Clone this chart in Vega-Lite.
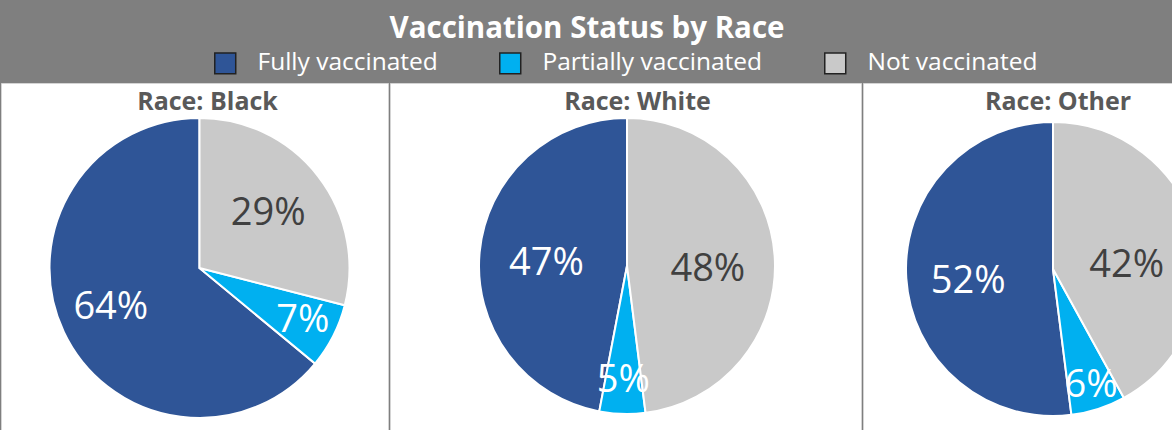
{
  "$schema": "https://vega.github.io/schema/vega-lite/v6.json",
  "background": "#7f7f7f",
  "padding": {"left": 0, "top": 13, "right": 0, "bottom": 0},
  "title": {"text": "Vaccination Status by Race", "color": "white", "fontSize": 29.5, "font": "Open Sans", "fontWeight": "bold", "anchor": "middle", "offset": 7},
  "data": {"values": [
    {"race": "Black", "status": "Fully vaccinated", "value": 0.64, "rank": 3},
    {"race": "Black", "status": "Partially vaccinated", "value": 0.07, "rank": 2},
    {"race": "Black", "status": "Not vaccinated", "value": 0.29, "rank": 1},
    {"race": "White", "status": "Fully vaccinated", "value": 0.47, "rank": 3},
    {"race": "White", "status": "Partially vaccinated", "value": 0.05, "rank": 2},
    {"race": "White", "status": "Not vaccinated", "value": 0.48, "rank": 1},
    {"race": "Other", "status": "Fully vaccinated", "value": 0.52, "rank": 3},
    {"race": "Other", "status": "Partially vaccinated", "value": 0.06, "rank": 2},
    {"race": "Other", "status": "Not vaccinated", "value": 0.42, "rank": 1}
  ]},
  "spacing": 0,
  "resolve": {"scale": {"color": "shared"}, "legend": {"color": "shared"}},
  "hconcat": [
    {
      "width": 387, "height": 348,
      "view": {"fill": "white", "stroke": "#d4d4d4", "strokeWidth": 1},
      "title": {"text": "Race: Black", "offset": -32, "dx": 13},
      "transform": [{"filter": "datum.race === 'Black'"}],
      "encoding": {
        "theta": {"field": "value", "type": "quantitative", "stack": true},
        "order": {"field": "rank", "type": "quantitative"}
      },
      "layer": [
        {"mark": {"type": "arc", "outerRadius": 150, "stroke": "white", "strokeWidth": 2, "xOffset": 5, "yOffset": 11},
         "encoding": {
           "color": {"field": "status", "type": "nominal", "scale": {"domain": ["Fully vaccinated", "Partially vaccinated", "Not vaccinated"], "range": ["#2F5597", "#00B0F0", "#C9C9C9"]}, "legend": {"title": null, "orient": "none", "direction": "horizontal", "legendX": 212, "legendY": -32}}
         }},
        {"mark": {"type": "text", "radius": 98, "font": "Open Sans", "fontSize": 38, "color": "white", "xOffset": 5, "yOffset": 9},
         "encoding": {
           "detail": {"field": "status", "type": "nominal"},
           "text": {"field": "value", "type": "quantitative", "format": ".0%"},
           "opacity": {"condition": {"test": "datum.status === 'Fully vaccinated'", "value": 1}, "value": 0}
         }},
        {"mark": {"type": "text", "radius": 87, "font": "Open Sans", "fontSize": 38, "color": "#404040", "xOffset": 5, "yOffset": 10},
         "encoding": {
           "detail": {"field": "status", "type": "nominal"},
           "text": {"field": "value", "type": "quantitative", "format": ".0%"},
           "opacity": {"condition": {"test": "datum.status === 'Not vaccinated'", "value": 1}, "value": 0}
         }},
        {"mark": {"type": "text", "radius": 116, "font": "Open Sans", "fontSize": 38, "color": "white", "xOffset": 5, "yOffset": 11},
         "encoding": {
           "detail": {"field": "status", "type": "nominal"},
           "text": {"field": "value", "type": "quantitative", "format": ".0%"},
           "opacity": {"condition": {"test": "datum.status === 'Partially vaccinated'", "value": 1}, "value": 0}
         }}
      ]
    },
    {
      "width": 471, "height": 348,
      "view": {"fill": "white", "stroke": "#d4d4d4", "strokeWidth": 1},
      "title": {"text": "Race: White", "offset": -32, "dx": 12},
      "transform": [{"filter": "datum.race === 'White'"}],
      "encoding": {
        "theta": {"field": "value", "type": "quantitative", "stack": true},
        "order": {"field": "rank", "type": "quantitative"}
      },
      "layer": [
        {"mark": {"type": "arc", "outerRadius": 148, "stroke": "white", "strokeWidth": 2, "xOffset": 1.5, "yOffset": 9},
         "encoding": {
           "color": {"field": "status", "type": "nominal", "scale": {"domain": ["Fully vaccinated", "Partially vaccinated", "Not vaccinated"], "range": ["#2F5597", "#00B0F0", "#C9C9C9"]}}
         }},
        {"mark": {"type": "text", "radius": 81, "font": "Open Sans", "fontSize": 38, "color": "white", "xOffset": 1.5, "yOffset": 15},
         "encoding": {
           "detail": {"field": "status", "type": "nominal"},
           "text": {"field": "value", "type": "quantitative", "format": ".0%"},
           "opacity": {"condition": {"test": "datum.status === 'Fully vaccinated'", "value": 1}, "value": 0}
         }},
        {"mark": {"type": "text", "radius": 81, "font": "Open Sans", "fontSize": 38, "color": "#404040", "xOffset": 1.5, "yOffset": 18},
         "encoding": {
           "detail": {"field": "status", "type": "nominal"},
           "text": {"field": "value", "type": "quantitative", "format": ".0%"},
           "opacity": {"condition": {"test": "datum.status === 'Not vaccinated'", "value": 1}, "value": 0}
         }},
        {"mark": {"type": "text", "radius": 115, "font": "Open Sans", "fontSize": 38, "color": "white", "xOffset": 1.5, "yOffset": 9},
         "encoding": {
           "detail": {"field": "status", "type": "nominal"},
           "text": {"field": "value", "type": "quantitative", "format": ".0%"},
           "opacity": {"condition": {"test": "datum.status === 'Partially vaccinated'", "value": 1}, "value": 0}
         }}
      ]
    },
    {
      "width": 310, "height": 348,
      "view": {"fill": "white", "stroke": "#d4d4d4", "strokeWidth": 1},
      "title": {"text": "Race: Other", "offset": -32, "dx": 40},
      "transform": [{"filter": "datum.race === 'Other'"}],
      "encoding": {
        "theta": {"field": "value", "type": "quantitative", "stack": true},
        "order": {"field": "rank", "type": "quantitative"}
      },
      "layer": [
        {"mark": {"type": "arc", "outerRadius": 147, "stroke": "white", "strokeWidth": 2, "xOffset": 35, "yOffset": 12, "clip": true},
         "encoding": {
           "color": {"field": "status", "type": "nominal", "scale": {"domain": ["Fully vaccinated", "Partially vaccinated", "Not vaccinated"], "range": ["#2F5597", "#00B0F0", "#C9C9C9"]}}
         }},
        {"mark": {"type": "text", "radius": 85, "font": "Open Sans", "fontSize": 38, "color": "white", "xOffset": 35, "yOffset": 20, "clip": true},
         "encoding": {
           "detail": {"field": "status", "type": "nominal"},
           "text": {"field": "value", "type": "quantitative", "format": ".0%"},
           "opacity": {"condition": {"test": "datum.status === 'Fully vaccinated'", "value": 1}, "value": 0}
         }},
        {"mark": {"type": "text", "radius": 76, "font": "Open Sans", "fontSize": 38, "color": "#404040", "xOffset": 35, "yOffset": 28, "clip": true},
         "encoding": {
           "detail": {"field": "status", "type": "nominal"},
           "text": {"field": "value", "type": "quantitative", "format": ".0%"},
           "opacity": {"condition": {"test": "datum.status === 'Not vaccinated'", "value": 1}, "value": 0}
         }},
        {"mark": {"type": "text", "radius": 123, "font": "Open Sans", "fontSize": 38, "color": "white", "xOffset": 35, "yOffset": 12, "clip": true},
         "encoding": {
           "detail": {"field": "status", "type": "nominal"},
           "text": {"field": "value", "type": "quantitative", "format": ".0%"},
           "opacity": {"condition": {"test": "datum.status === 'Partially vaccinated'", "value": 1}, "value": 0}
         }}
      ]
    }
  ],
  "config": {
    "view": {"fill": "white", "stroke": "#d4d4d4", "strokeWidth": 1},
    "title": {"color": "#595959", "fontSize": 25, "font": "Open Sans", "fontWeight": "bold"},
    "legend": {
      "direction": "horizontal", "symbolType": "square", "symbolSize": 440,
      "symbolStrokeColor": "#222222", "symbolStrokeWidth": 1.5, "symbolOpacity": 1,
      "labelColor": "white", "labelFont": "Open Sans", "labelFontSize": 24.5, "labelOffset": 20,
      "columnPadding": 58, "labelLimit": 400, "padding": 0
    }
  }
}
